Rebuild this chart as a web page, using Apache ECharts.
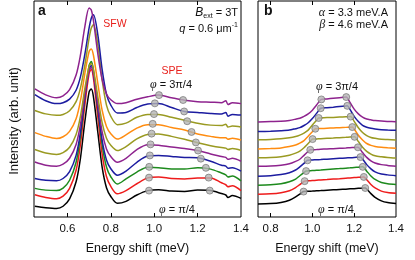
<!DOCTYPE html>
<html><head><meta charset="utf-8">
<script src="https://cdn.jsdelivr.net/npm/echarts@6/dist/echarts.min.js"></script>
<style>html,body{margin:0;padding:0;background:#fff}#c{width:415px;height:260px}</style>
</head><body><div id="c"></div>
<script>
// ---------- Panel a: measured spectra (bottom phi=pi/4 -> top phi=3pi/4) ----------
const energyA = [0.45,0.50,0.55,0.58,0.61,0.64,0.66,0.68,0.70,0.71,0.72,0.74,0.76,0.78,0.80,0.83,0.87,0.92,0.97,1.02,1.08,1.14,1.20,1.26,1.31,1.33,1.34,1.36,1.40];
const specA1  = [11,9.5,8.7,11,18.5,36,60,97,128,131,123,87,51,30,21,14,16,22.5,27,28,26.5,26,27.5,27,24,22.5,20,22,19];
const specA2  = [22.7,20,18.7,21.3,29.3,47.8,74.3,114,147,151,142,102.6,64.4,41.5,31.3,23.7,27,34,40,41,39.5,39,40,40,35,33,31,32,27];
const specA3  = [29.3,27.5,27,29.6,37.6,56,82.4,122,155,159,150.2,111.4,73.8,51.2,41.2,33.7,39,46,51,50.5,49,49,50.5,49,45,43,41,42,37];
const specA4  = [39.3,37.5,37,39.4,46.4,63,86.6,122,151.5,155,147.1,112.3,78.6,58.4,49.4,42.7,47,56,62.5,63,62,61,60.5,57,53,52,50,50.5,47];
const specA5  = [56.3,53,52,54,60.1,74.2,94.4,124.7,150,153,146.2,116.1,87,69.6,61.8,56,60,69,74,73.5,71.5,70,68,64.5,62,61,59,60,57];
const specA6  = [69,65.5,64,65.9,71.4,84.5,103,131,154.2,157,150.8,123.2,96.5,80.5,73.3,68,72,80,84.5,85,82.5,79.5,76,73,71,70.5,69,70,68];
const specA7  = [86.3,82.5,80.3,82.1,87.6,100.5,118.8,146.3,169.3,172,165.5,136.9,109.2,92.6,85.2,79.7,84,91,94.5,94.5,91.5,89,85,82.5,81,81,79.5,80.5,78.7];
const specA8  = [109,105.5,104,104.9,108.7,118,131.9,155,183,193.3,197,176.3,140.2,114.4,103,94.5,96,102,105,105,102,99,96,94,93.5,95,92,93,92];
const specA9  = [125.3,119,116,116.9,120.6,129.7,143.3,166,193.4,203.4,207,186.7,151.1,125.6,114.5,106.5,107,112,115.5,116,112,108,107,106,105.5,107,103,105,104.3];
const specA10 = [131,125,122,123.9,130.3,145.2,165.6,194.3,213.8,211.7,200.9,167.3,140.7,125.9,119.9,116,117,120.5,123,124.7,122,119.5,118,117.5,117,119,115,117,116];
const dotsAE_left  = [0.976,0.976,0.977,0.980,0.983,0.988,0.993,0.999,1.003,1.022];
const dotsAI_left  = [27,40.3,51.3,63,74.3,85.3,95.3,105.3,116.3,124.7];
const dotsAE_right = [1.256,1.251,1.238,1.215,1.202,1.192,1.172,1.152,1.138,1.133];
const dotsAI_right = [27,40.3,50.3,59.7,68,76.3,87,98,108,119.7];

// ---------- Panel b: calculated spectra ----------
const energyB = [0.74,0.80,0.85,0.89,0.92,0.94,0.96,0.98,1.00,1.02,1.04,1.07,1.10,1.13,1.16,1.18,1.20,1.22,1.24,1.26,1.28,1.30,1.33,1.36,1.40];
const specB1  = [13.2,13.7,14.9,17.1,20.5,23.4,26.0,26.3,26.5,26.8,27.0,27.4,27.8,28.2,28.5,28.8,29.0,29.3,29.5,28.6,23.9,20.1,16.5,14.8,13.9];
const specB2  = [23.2,23.7,24.9,26.9,30.1,33.2,36.3,37.0,37.3,37.6,37.9,38.3,38.8,39.2,39.7,40.0,40.3,40.6,40.9,38.2,33.3,29.7,26.5,25.1,24.2];
const specB3  = [32.5,33.0,34.1,36.1,38.8,42.2,45.5,47.2,47.5,47.8,48.1,48.6,49.1,49.5,50.0,50.3,50.7,51.0,51.3,46.9,42.0,38.4,35.3,34.1,33.2];
const specB4  = [41.8,42.3,43.4,45.3,48.1,51.3,54.9,58.0,58.3,58.6,58.8,59.2,59.6,60.0,60.4,60.6,60.9,61.2,59.4,53.6,49.3,46.2,43.9,43.1,42.3];
const specB5  = [51.8,52.1,53.0,54.4,56.9,59.1,63.1,67.0,68.8,69.0,69.3,69.6,69.9,70.3,70.6,70.9,71.1,70.9,65.9,61.0,57.5,55.3,53.6,52.8,52.0];
const specB6  = [60.5,60.8,61.6,63.1,65.3,67.4,70.9,75.2,79.5,79.9,80.1,80.5,80.8,81.2,81.5,81.8,82.0,77.2,71.4,67.2,64.4,62.6,61.6,60.9,60.3];
const specB7  = [69.7,70.1,70.7,72.1,73.7,75.6,78.2,82.6,87.2,90.4,90.5,90.8,91.1,91.4,91.7,91.9,90.0,83.6,78.8,75.2,73.3,72.2,71.3,70.8,70.3];
const specB8  = [79.1,79.4,80.0,81.0,82.3,83.8,85.9,88.9,94.1,99.0,101.4,101.7,101.9,102.2,102.5,102.7,97.8,91.3,86.5,83.3,81.4,80.5,79.5,79.2,78.7];
const specB9  = [87.4,87.7,88.2,88.9,90.4,91.4,93.6,96.4,100.7,106.0,111.3,111.9,112.4,113.0,113.6,110.1,102.9,97.6,93.8,91.9,90.8,90.1,89.3,89.0,88.7];
const specB10 = [97.3,97.7,98.0,98.8,100.1,101.1,103.0,105.5,109.3,114.5,119.6,120.8,121.5,122.1,122.7,117.2,110.4,105.5,102.2,100.2,99.4,98.7,98.1,97.8,97.5];
const dotsBE_left  = [0.958,0.963,0.970,0.977,0.990,1.001,1.014,1.030,1.040,1.043];
const dotsBI_left  = [26,36.7,47,58,68.7,79.7,90.3,101.3,111.3,120.3];
const dotsBE_right = [1.253,1.246,1.241,1.230,1.218,1.202,1.191,1.183,1.167,1.162];
const dotsBI_right = [29.7,41,51.3,61.3,71.3,82,92,102.7,113.7,122.7];

const tickValuesA = [0.6,0.8,1.0,1.2,1.4];
const tickValuesB = [0.8,1.0,1.2,1.4];

const colors = ['#000000','#ee1c1c','#1d8a1d','#1c1ca0','#8e238e','#9a9a22','#ff8c10','#9a9a22','#1c1ca0','#8e238e'];
const specsA = [specA1,specA2,specA3,specA4,specA5,specA6,specA7,specA8,specA9,specA10];
const specsB = [specB1,specB2,specB3,specB4,specB5,specB6,specB7,specB8,specB9,specB10];

const FONT = 'Liberation Sans, Arial, sans-serif';
const series = [];
specsA.forEach((s,k)=>{
  series.push({type:'line',xAxisIndex:0,yAxisIndex:0,data:energyA.map((e,i)=>[e,s[i]]),
    smooth:0.3,symbol:'none',lineStyle:{color:colors[k],width:1.5},z:2+k,silent:true});
});
specsB.forEach((s,k)=>{
  const pts = energyB.map((e,i)=>[e,s[i]]).filter(p=>Math.abs(p[0]-dotsBE_left[k])>0.005 && Math.abs(p[0]-dotsBE_right[k])>0.005);
  pts.push([dotsBE_left[k],dotsBI_left[k]],[dotsBE_right[k],dotsBI_right[k]]);
  pts.sort((a,b)=>a[0]-b[0]);
  series.push({type:'line',xAxisIndex:2,yAxisIndex:1,data:pts,
    smooth:0.25,symbol:'none',lineStyle:{color:colors[k],width:1.5},z:2+k,silent:true});
});
const dotStyle = {color:'#b4b4b4',borderColor:'#6a6a6a',borderWidth:0.8};
series.push({type:'scatter',xAxisIndex:0,yAxisIndex:0,symbolSize:7,itemStyle:dotStyle,z:20,
  data:dotsAE_left.map((e,i)=>[e,dotsAI_left[i]]).concat(dotsAE_right.map((e,i)=>[e,dotsAI_right[i]]))});
series.push({type:'scatter',xAxisIndex:2,yAxisIndex:1,symbolSize:7,itemStyle:dotStyle,z:20,
  data:dotsBE_left.map((e,i)=>[e,dotsBI_left[i]]).concat(dotsBE_right.map((e,i)=>[e,dotsBI_right[i]]))});

function xAx(grid,min,max,ticks,pos,labels){
  return {type:'value',gridIndex:grid,min:min,max:max,position:pos,
    axisLine:{show:false},splitLine:{show:false},
    axisTick:{show:true,inside:true,length:4,customValues:ticks.filter(v=>v<max-1e-6),lineStyle:{color:'#000',width:1}},
    axisLabel:{show:labels,customValues:ticks,formatter:v=>Number(v).toFixed(1),fontSize:11.5,color:'#111',margin:6,fontFamily:FONT},
    name:labels?'Energy shift (meV)':'',nameLocation:'middle',nameGap:25,
    nameTextStyle:{fontSize:12.5,color:'#111',fontFamily:FONT}};
}
function yAx(grid){
  return {type:'value',gridIndex:grid,min:0,max:221,axisLine:{show:false},axisTick:{show:false},
    axisLabel:{show:false},splitLine:{show:false}};
}
const phi = {fontFamily:'Liberation Serif, serif',fontStyle:'italic',fontSize:12,color:'#111'};
const txt = {fontFamily:FONT,fontSize:11,color:'#111'};
function T(x,y,text,align,rich,extra){
  return Object.assign({type:'text',x:x,y:y,z:50,style:Object.assign({text:text,align:align,verticalAlign:'middle',
    fontFamily:FONT,fontSize:11,fill:'#111',rich:rich||{}},extra||{})});
}
const richPhi = {p:phi,t:txt};
const option = {
  animation:false,
  backgroundColor:'#fff',
  grid:[
    {left:34,top:1,width:207,height:221,show:true,borderColor:'#000',borderWidth:1,backgroundColor:'transparent'},
    {left:258,top:1,width:138,height:221,show:true,borderColor:'#000',borderWidth:1,backgroundColor:'transparent'}
  ],
  xAxis:[xAx(0,0.446,1.4,tickValuesA,'bottom',true),xAx(0,0.446,1.4,tickValuesA,'top',false),
         xAx(1,0.74,1.4,tickValuesB,'bottom',true),xAx(1,0.74,1.4,tickValuesB,'top',false)],
  yAxis:[yAx(0),yAx(1)],
  series:series,
  graphic:[
    {type:'text',x:14,y:121,rotation:Math.PI/2,z:50,style:{text:'Intensity (arb. unit)',align:'center',verticalAlign:'middle',fontFamily:FONT,fontSize:13,fill:'#111'}},
    T(38,11,'a','left',null,{fontWeight:'bold',fontSize:14}),
    T(264,11,'b','left',null,{fontWeight:'bold',fontSize:14}),
    T(115,24,'SFW','center',null,{fill:'#e8201c',fontSize:10.5}),
    T(172,71,'SPE','center',null,{fill:'#e8201c',fontSize:10.5}),
    T(238,13,'{i|B}{s|ext}{t| = 3T}','right',{i:{fontFamily:FONT,fontStyle:'italic',fontSize:12,color:'#111',verticalAlign:'middle'},s:{fontFamily:FONT,fontSize:7,color:'#111',verticalAlign:'bottom',padding:[6,0,0,0]},t:txt}),
    T(238,29,'{i|q}{t| = 0.6 μm}{u|-1}','right',{i:{fontFamily:FONT,fontStyle:'italic',fontSize:11,color:'#111'},t:txt,u:{fontFamily:FONT,fontSize:7,color:'#111',padding:[0,0,7,0]}}),
    T(171,85,'{p|φ}{t| = 3π/4}','center',richPhi),
    T(177,210,'{p|φ}{t| = π/4}','center',richPhi),
    T(388,13,'{p|α}{t| = 3.3 meV.A}','right',richPhi),
    T(388,25,'{p|β}{t| = 4.6 meV.A}','right',richPhi),
    T(337,87,'{p|φ}{t| = 3π/4}','center',richPhi),
    T(336,210,'{p|φ}{t| = π/4}','center',richPhi)
  ]
};
const chart = echarts.init(document.getElementById('c'),null,{renderer:'canvas'});
chart.setOption(option);
</script></body></html>
